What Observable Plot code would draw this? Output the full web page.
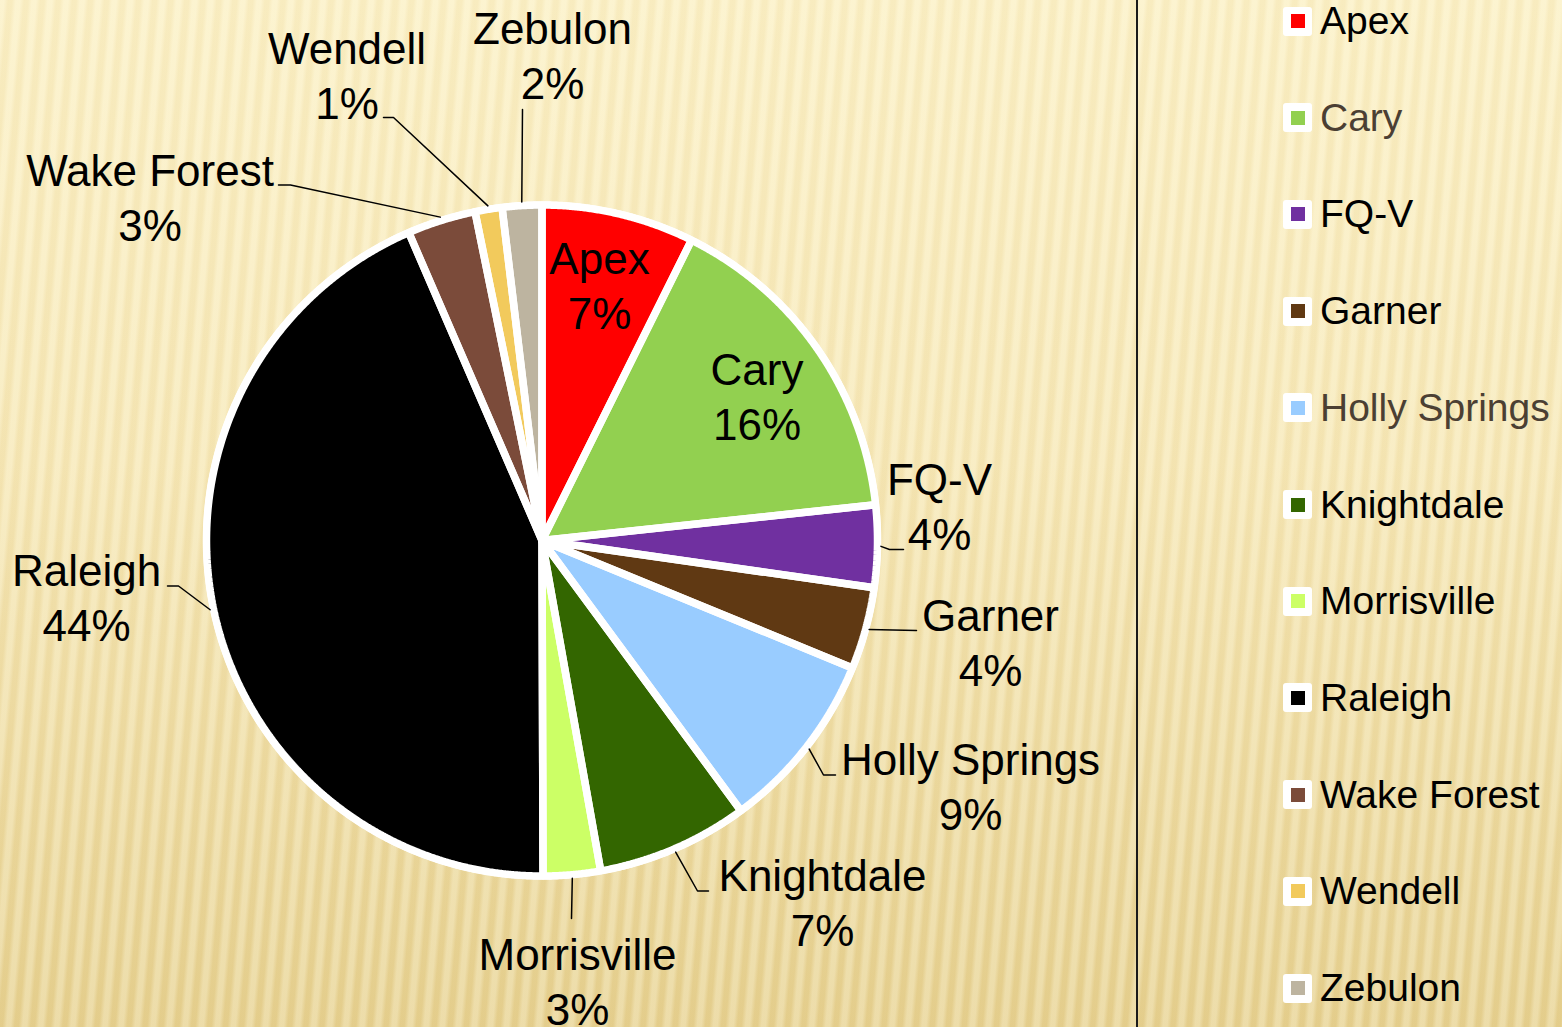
<!DOCTYPE html>
<html><head><meta charset="utf-8">
<script src="https://cdn.jsdelivr.net/npm/d3@7"></script>
<script src="https://cdn.jsdelivr.net/npm/@observablehq/plot@0.6"></script>
<style>
html,body{margin:0;padding:0;}
#wrap{position:relative;width:1562px;height:1027px;overflow:hidden;
background:
 repeating-linear-gradient(95deg, rgba(255,252,232,0.30) 0px, rgba(255,252,232,0.30) 4px, rgba(210,180,105,0.07) 8px, rgba(210,180,105,0.07) 12px, rgba(255,252,232,0.30) 16px),
 linear-gradient(to bottom, #fbf0c6 0%, #f6e7b6 45%, #e5cf8e 100%);
font-family:"Liberation Sans", Arial, sans-serif;}
#chart{position:absolute;left:0;top:0;}
#legend{position:absolute;left:1135.5px;top:0;width:425px;height:1027px;border-left:2px solid #1a1a1a;}
.item{position:absolute;left:145.5px;height:40px;display:flex;align-items:center;}
.sw{width:29px;height:29px;background:#fff;border-radius:3px;display:flex;align-items:center;justify-content:center;}
.sw i{display:block;width:14px;height:14px;}
.lab{margin-left:8px;font-size:39px;line-height:40px;white-space:nowrap;}
</style></head>
<body><div id="wrap"><div id="chart"></div><div id="legend"></div></div>
<script>
// ---- data ----
const names = ["Apex","Cary","FQ-V","Garner","Holly Springs","Knightdale","Morrisville","Raleigh","Wake Forest","Wendell","Zebulon"];
const shares = [7.35,15.95,3.95,3.95,8.7,7.3,2.75,43.55,3.3,1.3,1.9];
const colors = ["#ff0000","#92d050","#7030a0","#603913","#99ccff","#336600","#ccff66","#000000","#7b4b3a","#f2ca5c","#bdb4a0"];
const legendTextColors = ["#000","#4b3f33","#000","#000","#4b3f33","#000","#000","#000","#000","#000","#000"];

// ---- layout ----
const W = 1562, H = 1027, PW = 1136;
const cx = 541.5, cy = 540, R = 335.5, RING = 339;
const labelAt = {"Apex":[599,283],"Cary":[756.5,394],"FQ-V":[939,504],"Garner":[990,640.5],"Holly Springs":[970,784],"Knightdale":[822,900],"Morrisville":[577,979],"Raleigh":[86,595.5],"Wake Forest":[149.5,195.5],"Wendell":[346.5,73.5],"Zebulon":[552,53]};
const leaderAt = {"FQ-V":[[889,549],[903,549]],"Garner":[[916,630]],"Holly Springs":[[823,774.5],[835,774.5]],"Knightdale":[[697,890.5],[708,890.5]],"Morrisville":[[571,918]],"Raleigh":[[178,585.5],[167,585.5]],"Wake Forest":[[290,184.5],[278,184.5]],"Wendell":[[393,117],[383,117]],"Zebulon":[[522,109]]};

const data = names.map((name, i) => ({name, value: shares[i]}));
const arcs = d3.pie().sort(null).value(d => d.value)(data);

const slicePts = arcs.flatMap(p => {
  const name = p.data.name;
  const pts = [{name, x: 0, y: 0}];
  const n = Math.max(2, Math.ceil((p.endAngle - p.startAngle) / 0.004));
  for (let i = 0; i <= n; i++) {
    const a = p.startAngle + (p.endAngle - p.startAngle) * i / n;
    pts.push({name, x: R * Math.sin(a), y: -R * Math.cos(a)});
  }
  pts.push({name, x: 0, y: 0});
  return pts;
});
const discPts = d3.range(0, 721).map(i => {
  const a = i / 720 * 2 * Math.PI;
  return {x: RING * Math.sin(a), y: -RING * Math.cos(a)};
});
const leaderPts = arcs.flatMap(p => {
  const name = p.data.name;
  if (!leaderAt[name]) return [];
  const m = (p.startAngle + p.endAngle) / 2;
  return [{name, x: RING * Math.sin(m), y: -RING * Math.cos(m)},
    ...leaderAt[name].map(([x, y]) => ({name, x: x - cx, y: y - cy}))];
});
const labels = arcs.map(p => ({
  name: p.data.name,
  x: labelAt[p.data.name][0] - cx,
  y: labelAt[p.data.name][1] - cy,
  text: `${p.data.name}\n${Math.round(p.data.value)}%`
}));

const chart = Plot.plot({
  width: PW, height: H, margin: 0,
  style: {background: "transparent", fontFamily: "Liberation Sans, Arial, sans-serif", overflow: "visible"},
  x: {domain: [-cx, PW - cx], range: [0, PW], axis: null},
  y: {domain: [-cy, H - cy], range: [0, H], axis: null},
  color: {domain: names, range: colors},
  marks: [
    Plot.line(discPts, {x: "x", y: "y", fill: "white", stroke: "none"}),
    Plot.line(slicePts, {x: "x", y: "y", z: "name", fill: "name", stroke: "none"}),
    Plot.line(slicePts, {x: "x", y: "y", z: "name", stroke: "white", strokeWidth: 7.5, strokeLinejoin: "miter"}),
    Plot.line(leaderPts, {x: "x", y: "y", z: "name", stroke: "#000", strokeWidth: 1.5}),
    Plot.text(labels, {x: "x", y: "y", text: "text", fontSize: 44, lineHeight: 1.25, textAnchor: "middle", lineAnchor: "middle", fill: "#000"})
  ]
});
document.getElementById("chart").appendChild(chart);

const legend = document.getElementById("legend");
names.forEach((name, i) => {
  const item = document.createElement("div");
  item.className = "item";
  item.style.top = (21 + i * 96.7 - 20) + "px";
  item.innerHTML = `<div class="sw"><i style="background:${colors[i]}"></i></div><span class="lab" style="color:${legendTextColors[i]}">${name}</span>`;
  legend.appendChild(item);
});
</script></body></html>
